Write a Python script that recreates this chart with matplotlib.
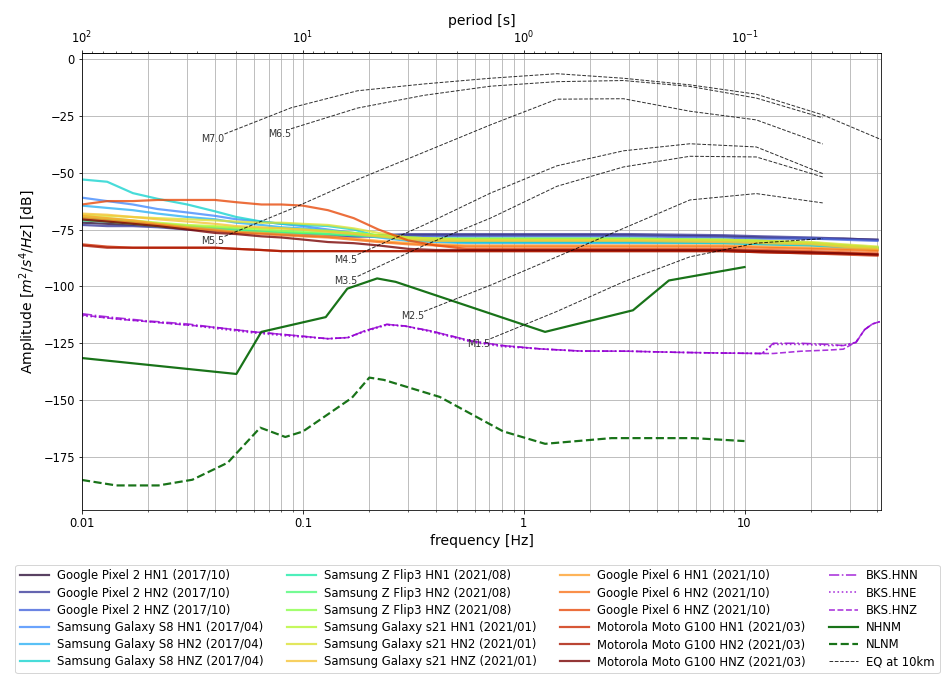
import numpy as np
import matplotlib
matplotlib.use('Agg')
import matplotlib.pyplot as plt

# phone noise spectra (dB)
f_phone = [0.01, 0.013, 0.017, 0.022, 0.03, 0.04, 0.05, 0.065, 0.08, 0.1, 0.13, 0.17,
           0.22, 0.3, 0.4, 0.55, 1, 3, 8, 12, 20, 28, 40]

phone_names = ['Google Pixel 2 HN1 (2017/10)', 'Google Pixel 2 HN2 (2017/10)', 'Google Pixel 2 HNZ (2017/10)',
               'Samsung Galaxy S8 HN1 (2017/04)', 'Samsung Galaxy S8 HN2 (2017/04)', 'Samsung Galaxy S8 HNZ (2017/04)',
               'Samsung Z Flip3 HN1 (2021/08)', 'Samsung Z Flip3 HN2 (2021/08)', 'Samsung Z Flip3 HNZ (2021/08)',
               'Samsung Galaxy s21 HN1 (2021/01)', 'Samsung Galaxy s21 HN2 (2021/01)', 'Samsung Galaxy s21 HNZ (2021/01)',
               'Google Pixel 6 HN1 (2021/10)', 'Google Pixel 6 HN2 (2021/10)', 'Google Pixel 6 HNZ (2021/10)',
               'Motorola Moto G100 HN1 (2021/03)', 'Motorola Moto G100 HN2 (2021/03)', 'Motorola Moto G100 HNZ (2021/03)']

pixel2_hn1 = [-72, -72.5, -73, -73.5, -74.5, -75.5, -76, -76.5, -77, -77.5, -78, -78, -78, -77.5, -77.5, -77.5, -77.5, -77.5, -78, -78.5, -79, -79, -79.5]
pixel2_hn2 = [-73, -73.5, -73.5, -74, -75, -75.5, -76, -76.5, -77, -77.5, -78, -78, -77.5, -77, -77, -77, -77, -77, -77.5, -78, -78.5, -79, -79.5]
pixel2_hnz = [-71, -71.5, -72, -72.5, -73.5, -74.5, -75, -76, -76.5, -77, -77.5, -78, -78, -78, -78, -78, -78, -78, -78.5, -79, -79, -79.5, -80]
s8_hn1 = [-61, -62.5, -64, -66, -67.5, -69, -70.5, -71.5, -72.5, -73.5, -75, -76.5, -78, -79.5, -80, -80.5, -80.5, -80.5, -80.5, -81, -81.5, -82, -83]
s8_hn2 = [-64.5, -65.5, -66.5, -68, -69.5, -70.5, -72, -73, -74, -74.5, -75.5, -77, -78.5, -80, -80.5, -81, -81, -81, -81, -81.5, -82, -83, -83.5]
s8_hnz = [-53, -54, -59, -61.5, -64, -67, -69.5, -71.5, -72.5, -73, -73.5, -75, -78, -79.5, -80, -80.5, -80.5, -80.5, -81, -81.5, -82, -82.5, -83]
flip3_hn1 = [-70, -71, -72, -73, -74, -75, -75.5, -76, -76.5, -76.5, -77, -77.5, -78, -78.5, -79, -79, -79, -79, -79.5, -80, -81, -82, -83]
flip3_hn2 = [-71, -71.5, -72.5, -73.5, -74.5, -75, -75.5, -76, -76, -76.5, -77, -77.5, -78, -79, -79.5, -79.5, -79.5, -79.5, -80, -80.5, -81, -82, -83.5]
flip3_hnz = [-69.5, -70.5, -71.5, -72.5, -73.5, -74, -74.5, -75, -75.5, -76, -76, -76.5, -77.5, -78.5, -79, -79, -79, -79, -79.5, -80, -81, -82.5, -84]
s21_hn1 = [-69, -70, -71, -72, -73, -73.5, -74, -74.5, -74.5, -75, -75.5, -76.5, -77.5, -79, -79.5, -79.5, -79.5, -79.5, -80, -80.5, -81, -82, -83]
s21_hn2 = [-68.5, -69, -69.5, -70, -70.5, -71, -71.5, -72, -72, -72.5, -73, -74.5, -76.5, -78.5, -79, -79.5, -79.5, -79.5, -79.5, -80, -80.5, -81.5, -82.5]
s21_hnz = [-68, -68.5, -69.5, -70.5, -71.5, -72.5, -73.5, -74, -74.5, -75, -76, -77, -78, -79.5, -80, -80, -80, -80, -80.5, -81, -81.5, -82.5, -83.5]
pixel6_hn1 = [-69, -70, -71, -72.5, -74, -75, -76, -76.5, -77, -77.5, -78, -79, -80, -81, -81.5, -82, -82, -82, -82, -82.5, -83, -83.5, -84]
pixel6_hn2 = [-70, -71, -72, -73, -74.5, -75.5, -76.5, -77, -77.5, -78, -78.5, -79.5, -80.5, -81.5, -82, -82.5, -82.5, -82.5, -82.5, -83, -83.5, -84, -84.5]
pixel6_hnz = [-64, -62.5, -62.5, -62, -62, -62, -63, -64, -64, -64.5, -66.5, -70, -75, -79.8, -82, -83.5, -83.5, -83.5, -83.5, -84, -84.5, -85, -85.5]
moto_hn1 = [-81.5, -82.5, -83, -83, -83, -83, -83.5, -84, -84.5, -84.5, -84.5, -84.5, -84.5, -84.5, -84.5, -84.5, -84.5, -84.5, -84.5, -85, -85.5, -86, -86.5]
moto_hn2 = [-82, -83, -83, -83, -83, -83, -83.5, -84, -84.5, -84.5, -84.5, -84.5, -84.5, -84.5, -84.5, -84.5, -84.5, -84.5, -84.5, -85, -85.5, -85.5, -86]
moto_hnz = [-70.6, -71.5, -72.5, -73.5, -75, -76.5, -77, -78, -78.5, -79.4, -80.5, -81, -82, -83.5, -84, -84, -84, -84, -84, -84.5, -85, -85.5, -86]

phones = [pixel2_hn1, pixel2_hn2, pixel2_hnz, s8_hn1, s8_hn2, s8_hnz,
          flip3_hn1, flip3_hn2, flip3_hnz, s21_hn1, s21_hn2, s21_hnz,
          pixel6_hn1, pixel6_hn2, pixel6_hnz, moto_hn1, moto_hn2, moto_hnz]

# BKS station
f_bks = [0.01, 0.012, 0.015, 0.02, 0.03, 0.04, 0.06, 0.09, 0.13, 0.16, 0.19, 0.24, 0.29, 0.38,
         0.58, 0.8, 1.2, 1.8, 3, 5, 8, 12, 13.5, 18, 24, 28, 32, 35, 38, 41]
bks_hnn = [-112, -113, -114, -115.2, -116.5, -118, -120, -121.5, -123, -122.5, -119.6, -116.7, -117.4, -119.6,
           -124, -126, -127.5, -128.4, -128.5, -129, -129.3, -129.5, -125, -125, -125.5, -126, -124.7, -119, -116.5, -115.5]
bks_hne = [-113, -113.5, -114.5, -115.5, -117, -118.5, -120.5, -122, -123, -122.5, -120, -117, -117.5, -120,
           -124.5, -126.5, -127.5, -128.5, -128.5, -129, -129.3, -129.5, -125.5, -125.5, -126, -126, -124.5, -119, -116.5, -115.5]
bks_hnz = [-112.5, -113.5, -114.5, -115.5, -117, -118, -120, -121.5, -123, -122.5, -119.6, -116.7, -117.4, -119.6,
           -124, -126, -127.5, -128.4, -128.5, -129, -129.3, -129.5, -129.5, -128.5, -128, -127.6, -124.4, -119, -116.5, -115.5]

# Peterson noise models
f_nhnm = [0.01, 0.05, 0.0649, 0.127, 0.159, 0.217, 0.263, 1.25, 3.125, 4.545, 10]
nhnm = [-131.5, -138.5, -120.0, -113.5, -101.0, -96.5, -98.0, -120.0, -110.5, -97.4, -91.5]
f_nlnm = [0.01, 0.0143, 0.0222, 0.0316, 0.0457, 0.0641, 0.0833, 0.1, 0.1667, 0.2, 0.2326, 0.417,
          0.806, 1.25, 2.5, 5.88, 10]
nlnm = [-185.1, -187.5, -187.5, -185.0, -177.5, -162.1, -166.2, -163.8, -149.0, -140.1, -141.1, -148.6,
        -163.7, -169.2, -166.7, -166.7, -168.0]

# earthquakes at 10 km
f_eq = [0.0442, 0.0884, 0.177, 0.354, 0.707, 1.414, 2.83, 5.66, 11.3, 22.6, 45.3]
eq_labels = ['M7.0', 'M6.5', 'M5.5', 'M4.5', 'M3.5', 'M2.5', 'M1.5']
eq_m70 = [-33, -21.5, -14, -11, -8.5, -6.5, -8.5, -11.4, -15.5, -24.6, -37]
eq_m65 = [None, -30.7, -21.6, -16, -12, -10, -9.5, -12.1, -17.2, -25.9, None]
eq_m55 = [-78, -66, -53, -41, -29, -17.7, -17.5, -23, -26.8, -37.4, None]
eq_m45 = [None, None, -86, -73, -59, -47, -40.4, -37.3, -38.7, -50.4, None]
eq_m35 = [None, None, -95.6, -82, -70, -56, -47.5, -42.8, -43.1, -51.9, None]
eq_m25 = [None, None, None, -111, -99.5, -87, -74.5, -62, -59.2, -63.3, None]
eq_m15 = [None, None, None, None, -123, -111, -98, -87, -81, -79, None]
eqs = [eq_m70, eq_m65, eq_m55, eq_m45, eq_m35, eq_m25, eq_m15]

fig = plt.figure(figsize=(945/72, 675/72), dpi=72)
ax = fig.add_axes([82/945, 1-510/675, 799/945, 457/675])

colors = plt.cm.turbo(np.linspace(0, 1, len(phones)))
for vals, name, c in zip(phones, phone_names, colors):
    ax.plot(f_phone, vals, color=c, lw=2.2, alpha=0.8, label=name)

ax.plot(f_bks, bks_hnn, '-.', color='darkviolet', lw=1.6, alpha=0.8, label='BKS.HNN')
ax.plot(f_bks, bks_hne, ':', color='darkviolet', lw=1.6, alpha=0.8, label='BKS.HNE')
ax.plot(f_bks, bks_hnz, '--', color='darkviolet', lw=1.6, alpha=0.8, label='BKS.HNZ')
ax.plot(f_nhnm, nhnm, '-', color='darkgreen', lw=2.2, alpha=0.9, label='NHNM')
ax.plot(f_nlnm, nlnm, '--', color='darkgreen', lw=2.2, alpha=0.9, label='NLNM')

for i, (vals, lab) in enumerate(zip(eqs, eq_labels)):
    fx = [f for f, v in zip(f_eq, vals) if v is not None]
    vy = [v for v in vals if v is not None]
    ax.plot(fx, vy, '--', color='k', lw=1, alpha=0.8, label='EQ at 10km' if i == 0 else None)
    ax.text(fx[0], vy[0], lab, ha='right', va='top', fontsize=9.5, color='0.2')

ax.set_xscale('log')
ax.set_xlim(0.01, 41.5)
ax.set_ylim(-198.3, 2.6)
ax.grid(True, which='both', color='#b0b0b0', lw=0.8)
ax.set_xlabel('frequency [Hz]', fontsize=14)
ax.set_ylabel(r'Amplitude [$m^2/s^4/Hz$] [dB]', fontsize=14)
ax.set_xticks([0.01, 0.1, 1, 10])
ax.set_xticklabels(['0.01', '0.1', '1', '10'])
ax.tick_params(labelsize=11.5)

sec = ax.secondary_xaxis('top', functions=(lambda f: 1 / f, lambda p: 1 / p))
sec.set_xticks([100, 10, 1, 0.1])
sec.set_xlabel('period [s]', fontsize=14)
sec.tick_params(labelsize=11.5)

ax.legend(loc='upper center', bbox_to_anchor=(0.495, -0.107), ncol=4, fontsize=11.6,
          labelspacing=0.36, handlelength=2.5, handletextpad=0.7, columnspacing=2.0)

fig.savefig('out.png', dpi=72)
